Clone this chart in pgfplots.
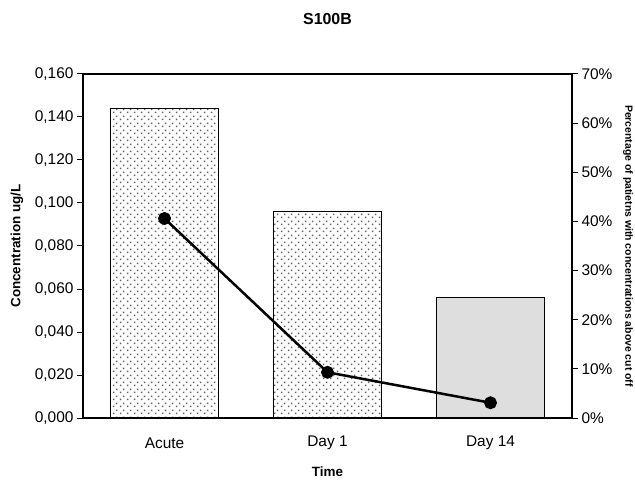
\documentclass[border=0pt]{standalone}
\usepackage{pgfplots}
\pgfplotsset{compat=1.18}
\usepackage{fontspec}
\setmainfont{Liberation Sans}
\usetikzlibrary{patterns}

% staggered grid of small dots used for the bar fill
\pgfdeclarepatternformonly{staggered dots}{\pgfqpoint{0bp}{0bp}}{\pgfqpoint{6.6bp}{6.6bp}}{\pgfqpoint{6.6bp}{6.6bp}}{%
  \pgfpathrectangle{\pgfqpoint{0.9bp}{0.9bp}}{\pgfqpoint{1.5bp}{1.5bp}}%
  \pgfpathrectangle{\pgfqpoint{4.2bp}{4.2bp}}{\pgfqpoint{1.5bp}{1.5bp}}%
  \pgfusepath{fill}}

\newcommand{\tickfont}{\fontsize{15.5}{18}\selectfont}
\newcommand{\labfont}{\fontsize{13.5}{16}\selectfont\bfseries}

\begin{document}
\begin{tikzpicture}
\pgfplotsset{
  common/.style={
    scale only axis, width=489bp, height=344bp,
    xmin=-0.5, xmax=2.5,
    tick align=outside, major tick length=6bp,
    axis line style={line width=1.2bp, black},
    tick style={line width=1bp, black},
    tick label style={font=\tickfont},
    /pgf/number format/assume math mode=true,
  }
}
\begin{axis}[
  common, name=main,
  ymin=0, ymax=0.16,
  ytick={0,0.02,0.04,0.06,0.08,0.1,0.12,0.14,0.16},
  scaled y ticks=false,
  ytick pos=left,
  y tick label style={/pgf/number format/fixed, /pgf/number format/fixed zerofill,
    /pgf/number format/precision=3, /pgf/number format/use comma},
  xtick={0,1,2}, xticklabels={Acute, Day 1, Day 14},
  major x tick style={draw=none},
  x tick label style={anchor=center, yshift=-19bp},
  title={S100B},
  title style={font=\fontsize{16}{19}\selectfont\bfseries, at={(axis description cs:0.5,1.143)}, anchor=center},
  xlabel={Time},
  xlabel style={font=\labfont, at={(axis description cs:0.5,-0.157)}, anchor=center},
  ylabel={Concentration ug/L},
  ylabel style={font=\labfont, at={(axis description cs:-0.135,0.5)}, anchor=center, rotate=0},
]
\addplot[ybar, bar width=0.663, bar shift=0pt, draw=black, line width=1.1bp,
  pattern=staggered dots, pattern color=black!62]
  coordinates {(0,0.1440) (1,0.0960)};
\addplot[ybar, bar width=0.663, bar shift=0pt, draw=black, line width=1.1bp,
  fill=black!13]
  coordinates {(2,0.0560)};
\end{axis}
\begin{axis}[
  common,
  ymin=0, ymax=70,
  axis y line*=right, axis x line=none,
  ytick={0,10,20,30,40,50,60,70},
  yticklabel={\pgfmathprintnumber{\tick}\%},
  ylabel={Percentage of patietns with concentrations above cut off},
  ylabel style={font=\fontsize{10.5}{12}\selectfont\bfseries, at={(axis description cs:1.1145,0.5)}, anchor=center, rotate=180},
]
\addplot[black, line width=2.5bp, mark=*, mark size=5.2bp, mark options={fill=black}]
  coordinates {(0,40.6) (1,9.3) (2,3.1)};
\end{axis}
\pgfresetboundingbox
\path[use as bounding box] ([xshift=-83bp,yshift=-63bp]main.south west) rectangle ([xshift=63bp,yshift=74bp]main.north east);
\end{tikzpicture}
\end{document}
